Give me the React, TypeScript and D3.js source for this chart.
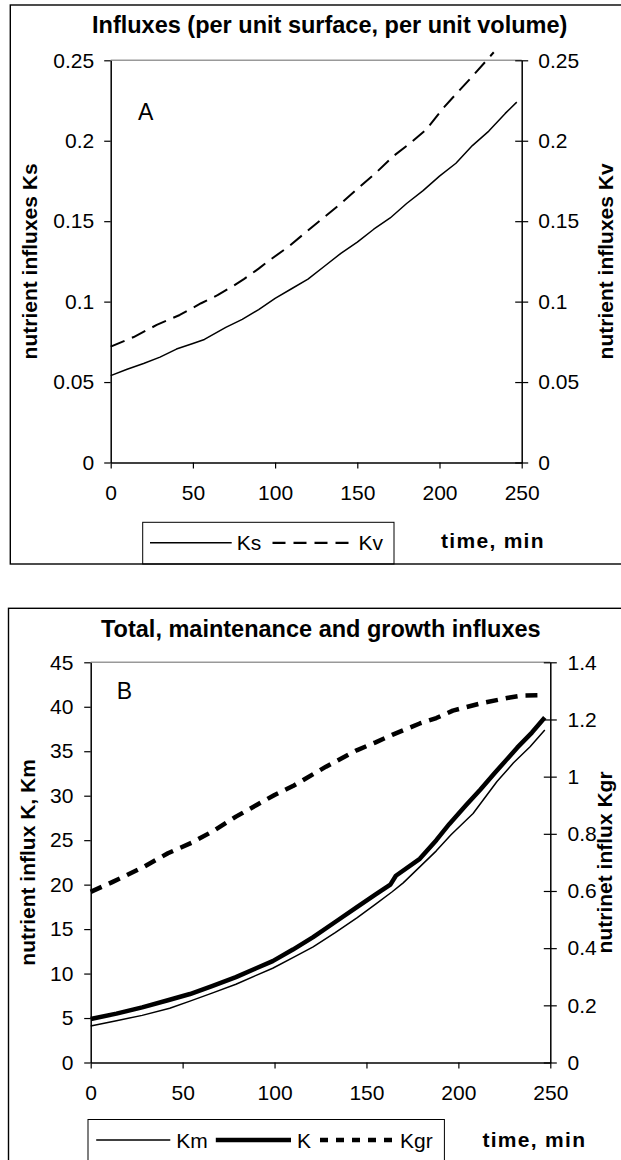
import React, { useRef, useEffect } from "react";
import { select, scaleLinear, axisLeft, axisRight, axisBottom, line } from "d3";

const FONT = "'Liberation Sans', Arial, Helvetica, sans-serif";

// shared x axis (time, min)
const timeTicks = [0, 50, 100, 150, 200, 250];

// ---- panel A : influxes per unit surface / per unit volume
const ksTime = [0, 10, 20, 30, 40, 50, 57, 70, 80, 90, 100, 110, 120, 130, 140, 150, 160, 170, 180, 190, 200, 210, 220, 230, 240, 247];
const ksValue = [0.054, 0.058, 0.0615, 0.0655, 0.0705, 0.074, 0.0765, 0.084, 0.089, 0.095, 0.102, 0.108, 0.114, 0.122, 0.13, 0.137, 0.145, 0.152, 0.161, 0.169, 0.178, 0.186, 0.197, 0.206, 0.217, 0.224];
const kvTime = [0, 14, 28, 42, 55, 65, 75, 81, 90, 97, 108, 119, 129, 140, 150, 162, 172, 182, 192, 202, 210, 220, 233];
const kvValue = [0.072, 0.078, 0.0855, 0.0917, 0.099, 0.104, 0.11, 0.114, 0.1205, 0.126, 0.134, 0.1434, 0.1518, 0.161, 0.17, 0.1807, 0.1905, 0.1984, 0.207, 0.22, 0.229, 0.24, 0.255];
const aTicks = [0, 0.05, 0.1, 0.15, 0.2, 0.25];
const aTickLabels = ["0", "0.05", "0.1", "0.15", "0.2", "0.25"];

// ---- panel B : total, maintenance and growth influxes
const kTime = [0, 14, 28, 42, 54, 66, 79, 90, 99, 110, 121, 133, 145, 155, 163, 166, 179, 188, 195, 204, 212, 220, 226, 232, 240, 247];
const kValue = [4.9, 5.5, 6.2, 7.0, 7.7, 8.6, 9.6, 10.6, 11.4, 12.7, 14.1, 15.8, 17.5, 18.9, 20.0, 21.0, 22.9, 25.0, 26.8, 28.9, 30.7, 32.6, 34.0, 35.4, 37.1, 38.8];
const kmTime = [0, 14, 28, 43, 54, 66, 79, 90, 99, 110, 121, 133, 145, 155, 164, 170, 179, 188, 196, 208, 221, 230, 239, 247];
const kmValue = [4.1, 4.7, 5.3, 6.1, 6.9, 7.8, 8.8, 9.8, 10.6, 11.8, 13.0, 14.6, 16.3, 17.8, 19.2, 20.2, 22.0, 23.8, 25.6, 28.0, 31.6, 33.7, 35.5, 37.4];
const kgrTime = [0, 12, 18, 29, 42, 55, 67, 79, 90, 100, 110, 128, 145, 155, 164, 179, 188, 197, 212, 228, 235, 243];
const kgrValue = [0.597, 0.632, 0.65, 0.685, 0.732, 0.769, 0.811, 0.86, 0.9, 0.936, 0.967, 1.035, 1.093, 1.12, 1.146, 1.186, 1.205, 1.231, 1.256, 1.277, 1.284, 1.285];
const bLeftTicks = [0, 5, 10, 15, 20, 25, 30, 35, 40, 45];
const bRightTicks = [0, 0.2, 0.4, 0.6, 0.8, 1, 1.2, 1.4];
const bRightLabels = ["0", "0.2", "0.4", "0.6", "0.8", "1", "1.2", "1.4"];

const drawPanel = (svg: any, p: any) => {
  const x = scaleLinear().domain([0, 250]).range([p.left, p.right]);
  const yL = scaleLinear().domain(p.leftDomain).range([p.bottom, p.top]);
  const yR = scaleLinear().domain(p.rightDomain).range([p.bottom, p.top]);

  // legend box first, so the chart border is drawn over its lower edge
  svg.append("rect")
    .attr("x", p.legend[0]).attr("y", p.legend[1])
    .attr("width", p.legend[2]).attr("height", p.legend[3])
    .attr("fill", "#fff").attr("stroke", "#000").attr("stroke-width", 1);

  // chart area border (runs off the right side of the picture)
  svg.append("rect")
    .attr("x", p.box[0]).attr("y", p.box[1])
    .attr("width", p.box[2]).attr("height", p.box[3])
    .attr("fill", "none").attr("stroke", "#000").attr("stroke-width", 1.4);

  // grey top edge of plot area
  svg.append("line")
    .attr("x1", p.left).attr("x2", p.right)
    .attr("y1", p.top).attr("y2", p.top)
    .attr("stroke", "#999").attr("stroke-width", 1.4);

  const styleAxis = (g: any) => {
    g.select(".domain").attr("stroke", "#000").attr("stroke-width", 1.5);
    g.selectAll(".tick line").attr("stroke", "#000").attr("stroke-width", 1.2);
    g.selectAll("text").attr("font-size", 21).attr("font-family", FONT).attr("fill", "#000");
  };

  const gl = svg.append("g").attr("transform", `translate(${p.left},0)`)
    .call(axisLeft(yL).tickValues(p.leftTicks).tickFormat((d: any, i: number) => p.leftLabels[i])
      .tickSizeInner(6.5).tickSizeOuter(0).tickPadding(p.labelPad));
  styleAxis(gl);

  const gr = svg.append("g").attr("transform", `translate(${p.right},0)`)
    .call(axisRight(yR).tickValues(p.rightTicks).tickFormat((d: any, i: number) => p.rightLabels[i])
      .tickSizeInner(6.5).tickSizeOuter(0).tickPadding(p.labelPad));
  styleAxis(gr);
  gr.selectAll(".tick line").attr("x1", -6.5); // cross ticks

  const gb = svg.append("g").attr("transform", `translate(0,${p.bottom})`)
    .call(axisBottom(x).tickValues(timeTicks).tickFormat((d: any) => String(d))
      .tickSizeInner(6).tickSizeOuter(0).tickPadding(16.5));
  styleAxis(gb);

  // series
  p.series.forEach((s: any) => {
    const y = s.axis === "left" ? yL : yR;
    const pts = s.t.map((t: number, i: number) => [t, s.v[i]]);
    svg.append("path")
      .attr("d", line().x((d: any) => x(d[0])).y((d: any) => y(d[1]))(pts))
      .attr("fill", "none").attr("stroke", "#000")
      .attr("stroke-width", s.width)
      .attr("stroke-dasharray", s.dash || null)
      .attr("stroke-linejoin", "round");
  });

  // titles
  svg.append("text").attr("x", p.titleX).attr("y", p.titleY)
    .attr("text-anchor", "middle").attr("font-family", FONT)
    .attr("font-size", 23.5).attr("font-weight", "bold").text(p.title);

  svg.append("text").attr("x", p.letterX).attr("y", p.letterY)
    .attr("font-family", FONT).attr("font-size", 23).text(p.letter);

  const midY = (p.top + p.bottom) / 2;
  svg.append("text")
    .attr("transform", `translate(${p.leftTitleX},${midY}) rotate(-90)`)
    .attr("text-anchor", "middle").attr("font-family", FONT)
    .attr("font-size", 21).attr("font-weight", "bold").text(p.leftTitle);
  svg.append("text")
    .attr("transform", `translate(${p.rightTitleX},${midY}) rotate(-90)`)
    .attr("text-anchor", "middle").attr("font-family", FONT)
    .attr("font-size", 21).attr("font-weight", "bold").text(p.rightTitle);

  svg.append("text").attr("x", p.timeX).attr("y", p.timeY)
    .attr("font-family", FONT).attr("font-size", 21).attr("font-weight", "bold")
    .attr("letter-spacing", 1.3).text("time, min");

  // legend entries
  const ly = p.legend[1] + 20.5;
  p.legendItems.forEach((it: any) => {
    svg.append("line")
      .attr("x1", it.x1).attr("x2", it.x2).attr("y1", ly).attr("y2", ly)
      .attr("stroke", "#000").attr("stroke-width", it.width)
      .attr("stroke-dasharray", it.dash || null);
    svg.append("text").attr("x", it.tx).attr("y", ly + 7.5)
      .attr("font-family", FONT).attr("font-size", 21).text(it.label);
  });
};

const App: React.FC = () => {
  const ref = useRef<SVGSVGElement>(null);

  useEffect(() => {
    const svg = select(ref.current);
    svg.selectAll("*").remove();

    drawPanel(svg, {
      left: 110.7, right: 521.7, top: 60.3, bottom: 462.5,
      box: [10.3, 5, 700, 559],
      leftDomain: [0, 0.25], rightDomain: [0, 0.25],
      leftTicks: aTicks, leftLabels: aTickLabels,
      rightTicks: aTicks, rightLabels: aTickLabels,
      labelPad: 10,
      title: "Influxes (per unit surface, per unit volume)", titleX: 329.7, titleY: 33.3,
      letter: "A", letterX: 138, letterY: 120,
      leftTitle: "nutrient influxes Ks", leftTitleX: 37,
      rightTitle: "nutrient influxes Kv", rightTitleX: 613,
      timeX: 441, timeY: 548.3,
      series: [
        { t: ksTime, v: ksValue, axis: "left", width: 1.5 },
        { t: kvTime, v: kvValue, axis: "right", width: 2, dash: "15,8" },
      ],
      legend: [142.7, 522.3, 251.3, 41.7],
      legendItems: [
        { x1: 150, x2: 231.7, width: 1.5, tx: 236.8, label: "Ks" },
        { x1: 272.5, x2: 348.5, width: 2.2, dash: "13,8", tx: 358.4, label: "Kv" },
      ],
    });

    drawPanel(svg, {
      left: 90.7, right: 550.3, top: 662.3, bottom: 1062.5,
      box: [8.5, 608.3, 700, 600],
      leftDomain: [0, 45], rightDomain: [0, 1.4],
      leftTicks: bLeftTicks, leftLabels: bLeftTicks.map(String),
      rightTicks: bRightTicks, rightLabels: bRightLabels,
      labelPad: 10.8,
      title: "Total, maintenance and growth influxes", titleX: 320.8, titleY: 636.7,
      letter: "B", letterX: 116.7, letterY: 699.3,
      leftTitle: "nutrient influx K, Km", leftTitleX: 34.5,
      rightTitle: "nutrinet influx Kgr", rightTitleX: 612,
      timeX: 482.4, timeY: 1146.7,
      series: [
        { t: kmTime, v: kmValue, axis: "left", width: 1.5 },
        { t: kTime, v: kValue, axis: "left", width: 4.5 },
        { t: kgrTime, v: kgrValue, axis: "right", width: 4.5, dash: "12,8" },
      ],
      legend: [88, 1119.5, 356.4, 60],
      legendItems: [
        { x1: 96.2, x2: 170.3, width: 1.5, tx: 176.2, label: "Km" },
        { x1: 215.8, x2: 291, width: 4.5, tx: 297, label: "K" },
        { x1: 320, x2: 393, width: 4.5, dash: "8,8", tx: 400, label: "Kgr" },
      ],
    });
  }, []);

  return (
    <svg
      ref={ref}
      width={621}
      height={1160}
      style={{ position: "absolute", left: 0, top: 0, background: "#fff" }}
    />
  );
};

export default App;
